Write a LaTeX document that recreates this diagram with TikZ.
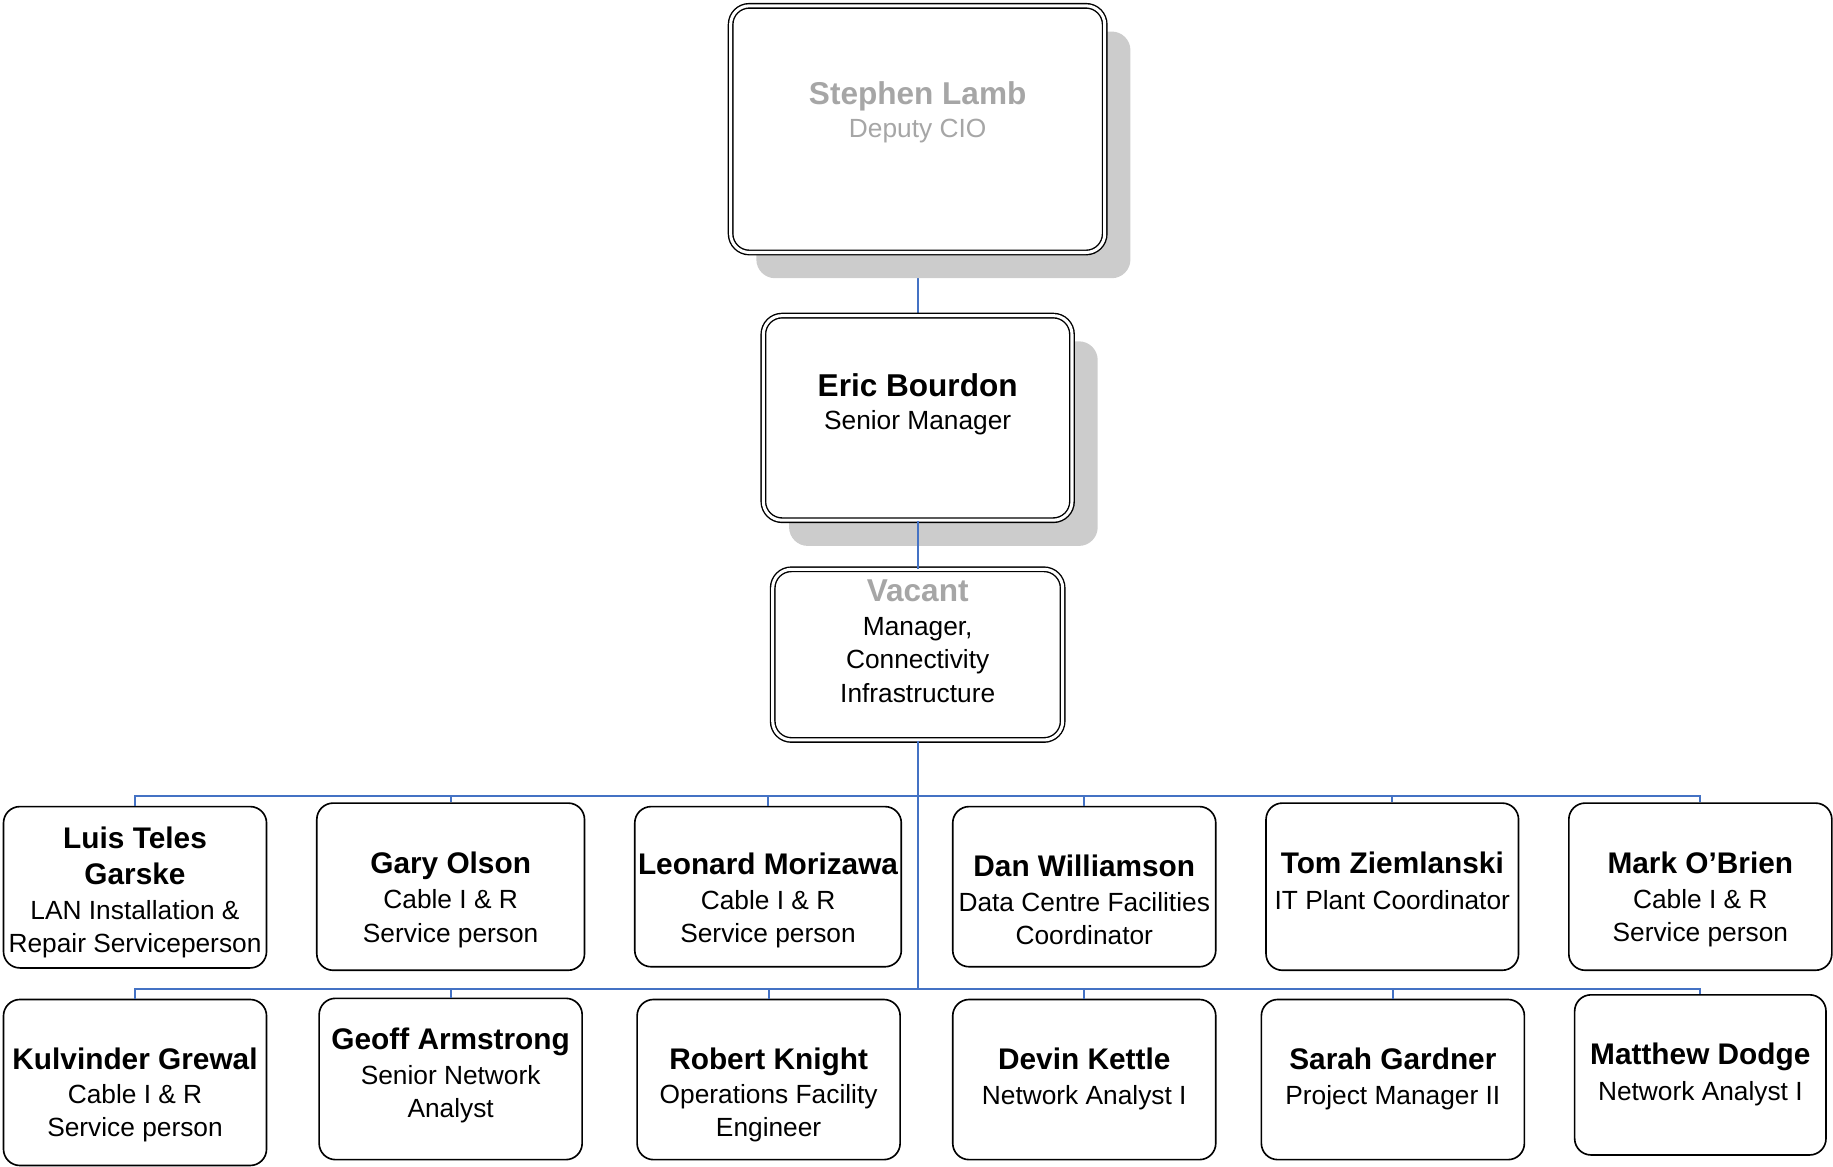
\documentclass[tikz,border=0pt]{standalone}
\usepackage{fontspec}
\setmainfont{Liberation Sans}
\usetikzlibrary{positioning,shadows,backgrounds}

\definecolor{linkblue}{RGB}{68,114,196}
\definecolor{dimgray}{RGB}{166,166,166}
\newcommand{\namefont}{\fontsize{25.5}{28.5}\bfseries\selectfont}
\newcommand{\bignamefont}{\fontsize{27}{30}\bfseries\selectfont}

\begin{document}
\begin{tikzpicture}[x=1pt,y=1pt,
    box/.style={draw,fill=white,rounded corners=14pt,line width=1.4pt,inner sep=0pt},
    topbox/.style={draw,fill=white,rounded corners=16pt,line width=1.2pt,double,double distance=2.6pt,inner sep=0pt},
    shade/.style={general shadow={fill=black!20,shadow xshift=22pt,shadow yshift=-22pt}},
    txt/.style={align=center,inner sep=0pt,font=\fontsize{22.5}{28.5}\selectfont},
    link/.style={draw=linkblue,line width=1.7pt}]
  \useasboundingbox (0,0) rectangle (1568,998);
  % management chain
  \node [topbox,shade,minimum width=320pt,minimum height=211pt] (lamb) at (785, 887.5) {};%
  \node [topbox,shade,minimum width=264pt,minimum height=175pt] (eric) at (785, 640.5) {};%
  \node [topbox,minimum width=248pt,minimum height=146pt] (vac) at (785, 438) {};%
  \node [txt,text=dimgray,below=65pt of lamb.north] (lambt) {{\bignamefont Stephen Lamb}\\Deputy CIO};%
  \node [txt,below=50pt of eric.north] (erict) {{\bignamefont Eric Bourdon}\\Senior Manager};%
  \node [txt,below=9pt of vac.north] (vact) {{\bignamefont\color{dimgray}Vacant}\\[1pt]Manager,\\Connectivity\\Infrastructure};%
  % first row
  \node [box,minimum width=225pt,minimum height=138pt] (luis) at (115.5, 239) {};%
  \node [box,minimum width=229pt,minimum height=143pt] (gary) at (385.5, 239.5) {};%
  \node [box,minimum width=228pt,minimum height=137pt] (leon) at (657, 239.5) {};%
  \node [box,minimum width=225pt,minimum height=137pt] (dan) at (927.5, 239.5) {};%
  \node [box,minimum width=216pt,minimum height=143pt] (tom) at (1191, 239.5) {};%
  \node [box,minimum width=225pt,minimum height=143pt] (mark) at (1454.5, 239.5) {};%
  \node [txt,below=17.5pt of luis.north] (luist) {{\namefont Luis Teles}\\[3pt]{\namefont Garske}\\[1pt]LAN Installation \&\\Repair Serviceperson};%
  \node [txt,below=42.5pt of gary.north] (garyt) {{\namefont Gary Olson}\\[1.5pt]Cable I \& R\\Service person};%
  \node [txt,below=40.5pt of leon.north] (leont) {{\namefont Leonard Morizawa}\\[1pt]Cable I \& R\\Service person};%
  \node [txt,below=41.5pt of dan.north] (dant) {{\namefont Dan Williamson}\\[1.5pt]Data Centre Facilities\\Coordinator};%
  \node [txt,below=42.5pt of tom.north] (tomt) {{\namefont Tom Ziemlanski}\\[2pt]IT Plant Coordinator};%
  \node [txt,below=42.5pt of mark.north] (markt) {{\namefont Mark O’Brien}\\[1pt]Cable I \& R\\Service person};%
  % second row
  \node [box,minimum width=225pt,minimum height=142pt] (kulv) at (115.5, 72) {};%
  \node [box,minimum width=225pt,minimum height=138pt] (geoff) at (385.5, 75) {};%
  \node [box,minimum width=225pt,minimum height=137pt] (robert) at (657.5, 74.5) {};%
  \node [box,minimum width=225pt,minimum height=137pt] (devin) at (927.5, 74.5) {};%
  \node [box,minimum width=225pt,minimum height=137pt] (sarah) at (1191.5, 74.5) {};%
  \node [box,minimum width=215pt,minimum height=137pt] (matt) at (1454.5, 78.5) {};%
  \node [txt,below=41.5pt of kulv.north] (kulvt) {{\namefont Kulvinder Grewal}\\[1pt]Cable I \& R\\Service person};%
  \node [txt,below=25.5pt of geoff.north] (grofft) {{\namefont Geoff Armstrong}\\[1.5pt]Senior Network\\Analyst};%
  \node [txt,below=41.5pt of robert.north] (robertt) {{\namefont Robert Knight}\\[1pt]Operations Facility\\Engineer};%
  \node [txt,below=41.5pt of devin.north] (devint) {{\namefont Devin Kettle}\\[1.5pt]Network Analyst I};%
  \node [txt,below=41.5pt of sarah.north] (saraht) {{\namefont Sarah Gardner}\\[1.5pt]Project Manager II};%
  \node [txt,below=41.5pt of matt.north] (mattt) {{\namefont Matthew Dodge}\\[2pt]Network Analyst I};%
  % connectors
  \coordinate (bus1) at (785, 317);
  \coordinate (bus2) at (785, 152);
  \begin{scope}[on background layer]
    \draw [link] (lamb) -- (eric);
  \end{scope}
  \draw [link] (eric) -- (vac);
  \draw [link] (vac) -- (bus2);
  \draw [link] (luis.north) |- (bus1) -| (mark.north);
  \draw [link] (gary.north) |- (bus1) -| (tom.north);
  \draw [link] (leon.north) |- (bus1) -| (dan.north);
  \draw [link] (kulv.north) |- (bus2) -| (matt.north);
  \draw [link] (geoff.north) |- (bus2) -| (sarah.north);
  \draw [link] (robert.north) |- (bus2) -| (devin.north);
\end{tikzpicture}
\end{document}
